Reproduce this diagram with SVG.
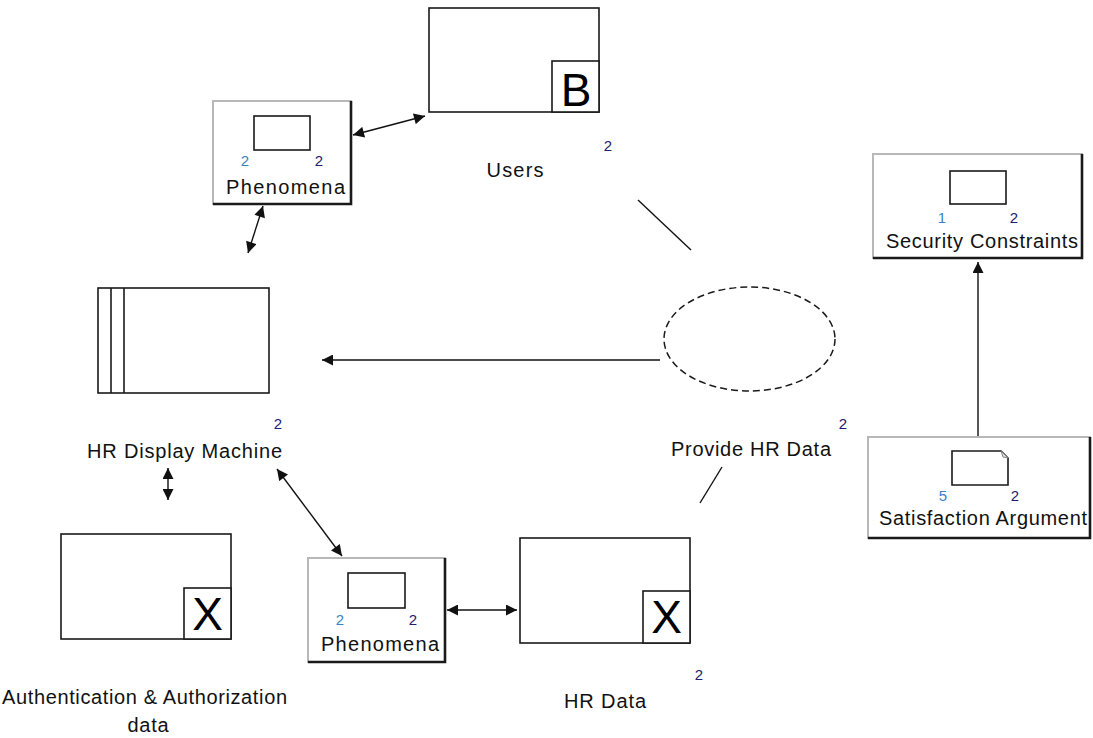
<svg xmlns="http://www.w3.org/2000/svg" width="1093" height="738" viewBox="0 0 1093 738">
<style>
.box{fill:#fff;stroke:#1a1a1a;stroke-width:1.6}
.panel{fill:#fff;stroke:#b8b8b8;stroke-width:2}
.shade{fill:none;stroke:#1a1a1a;stroke-width:2.6}
.inner{fill:#fff;stroke:#1a1a1a;stroke-width:1.6}
.lbl{font-family:"Liberation Sans",Arial,sans-serif;font-size:20px;fill:#111}
.big{font-family:"Liberation Sans",Arial,sans-serif;font-size:46px;fill:#000;text-anchor:middle}
.n1{font-family:"Liberation Sans",Arial,sans-serif;font-size:15px;fill:#3a82c4;text-anchor:middle}
.n2{font-family:"Liberation Sans",Arial,sans-serif;font-size:15px;fill:#202070;text-anchor:middle}
.conn{fill:none;stroke:#111;stroke-width:1.4}
</style>
<defs>
<marker id="ah" viewBox="0 0 10 10" refX="10" refY="5" markerWidth="12" markerHeight="11" markerUnits="userSpaceOnUse" orient="auto-start-reverse">
<path d="M0,0 L10,5 L0,10 Z" fill="#111"/>
</marker>
</defs>
<rect width="1093" height="738" fill="#fff"/>

<g id="connectors">
<line class="conn" x1="353" y1="135" x2="425" y2="116" marker-start="url(#ah)" marker-end="url(#ah)"/>
<line class="conn" x1="263" y1="206" x2="248" y2="253" marker-start="url(#ah)" marker-end="url(#ah)"/>
<line class="conn" x1="660" y1="360" x2="322" y2="360" marker-end="url(#ah)"/>
<line class="conn" x1="638" y1="200" x2="691" y2="250"/>
<line class="conn" x1="722" y1="467" x2="700" y2="503"/>
<line class="conn" x1="168" y1="468" x2="168" y2="500" marker-start="url(#ah)" marker-end="url(#ah)"/>
<line class="conn" x1="277" y1="469" x2="342" y2="556" marker-start="url(#ah)" marker-end="url(#ah)"/>
<line class="conn" x1="447" y1="610" x2="517" y2="610" marker-start="url(#ah)" marker-end="url(#ah)"/>
<line class="conn" x1="978" y1="437" x2="978" y2="262" marker-end="url(#ah)"/>
</g>

<g id="users">
<rect class="box" x="429" y="8" width="170" height="104"/>
<rect class="box" x="552" y="61" width="47" height="51"/>
<text class="big" x="576" y="106">B</text>
<text class="lbl" x="515" y="177" text-anchor="middle" textLength="57" lengthAdjust="spacing">Users</text>
<text class="n2" x="608" y="151">2</text>
</g>

<g id="phenomena-top">
<rect class="panel" x="213" y="101" width="138" height="103"/>
<polyline class="shade" points="351,101 351,204 213,204"/>
<rect class="inner" x="254" y="116" width="56" height="34"/>
<text class="n1" x="245" y="166">2</text>
<text class="n2" x="319" y="166">2</text>
<text class="lbl" x="285.5" y="194" text-anchor="middle" textLength="119" lengthAdjust="spacing">Phenomena</text>
</g>

<g id="hr-display-machine">
<rect class="box" x="98" y="288" width="171" height="105"/>
<line class="box" x1="111" y1="288" x2="111" y2="393"/>
<line class="box" x1="124" y1="288" x2="124" y2="393"/>
<text class="lbl" x="184.5" y="458" text-anchor="middle" textLength="195" lengthAdjust="spacing">HR Display Machine</text>
<text class="n2" x="278" y="429">2</text>
</g>

<g id="provide-hr-data">
<ellipse cx="749.5" cy="339" rx="85.5" ry="52" fill="#fff" stroke="#1a1a1a" stroke-width="1.5" stroke-dasharray="7,4"/>
<text class="lbl" x="751" y="456" text-anchor="middle" textLength="160" lengthAdjust="spacing">Provide HR Data</text>
<text class="n2" x="843" y="429">2</text>
</g>

<g id="security-constraints">
<rect class="panel" x="873" y="154" width="209" height="104"/>
<polyline class="shade" points="1082,154 1082,258 873,258"/>
<rect class="inner" x="950" y="171" width="56" height="33"/>
<text class="n1" x="942" y="223">1</text>
<text class="n2" x="1014" y="223">2</text>
<text class="lbl" x="982" y="248" text-anchor="middle" textLength="192" lengthAdjust="spacing">Security Constraints</text>
</g>

<g id="satisfaction-argument">
<rect class="panel" x="868" y="437" width="222" height="101"/>
<polyline class="shade" points="1090,437 1090,538 868,538"/>
<path class="inner" d="M952,451 H1001 L1008,458 V485 H952 Z"/>
<path d="M1001,451 L1003,457 L1008,458" fill="#ddd" stroke="#888" stroke-width="1"/>
<text class="n1" x="943" y="501">5</text>
<text class="n2" x="1015" y="501">2</text>
<text class="lbl" x="983" y="525" text-anchor="middle" textLength="208" lengthAdjust="spacing">Satisfaction Argument</text>
</g>

<g id="phenomena-bottom">
<rect class="panel" x="308" y="558" width="137" height="104"/>
<polyline class="shade" points="445,558 445,662 308,662"/>
<rect class="inner" x="348" y="573" width="57" height="35"/>
<text class="n1" x="340" y="625">2</text>
<text class="n2" x="413" y="625">2</text>
<text class="lbl" x="380" y="651" text-anchor="middle" textLength="118" lengthAdjust="spacing">Phenomena</text>
</g>

<g id="hr-data">
<rect class="box" x="520" y="538" width="170" height="105"/>
<rect class="box" x="643" y="591" width="47" height="52"/>
<text class="big" x="666.5" y="633">X</text>
<text class="lbl" x="605" y="708" text-anchor="middle" textLength="82" lengthAdjust="spacing">HR Data</text>
<text class="n2" x="699" y="680">2</text>
</g>

<g id="auth-data">
<rect class="box" x="61" y="534" width="170" height="105"/>
<rect class="box" x="184" y="588" width="47" height="51"/>
<text class="big" x="207.5" y="630">X</text>
<text class="lbl" x="2" y="704" textLength="285" lengthAdjust="spacing">Authentication &amp; Authorization</text>
<text class="lbl" x="148" y="732" text-anchor="middle" textLength="41" lengthAdjust="spacing">data</text>
</g>
</svg>
